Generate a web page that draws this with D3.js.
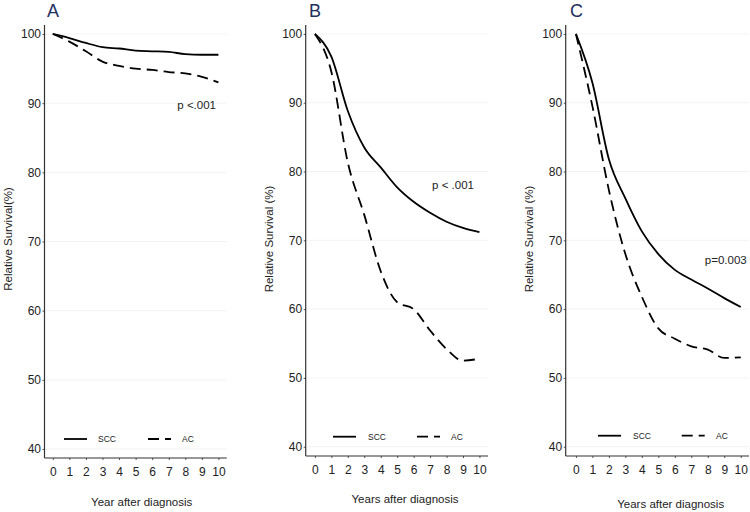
<!DOCTYPE html>
<html><head><meta charset="utf-8">
<script src="https://cdn.jsdelivr.net/npm/d3@7"></script>
<style>
body{margin:0;background:#fff;}
text{font-family:"Liberation Sans",Arial,sans-serif;}
</style></head>
<body><svg id="c" width="750" height="512"></svg>
<script>
const years = [0,1,2,3,4,5,6,7,8,9,10];
const yTicks = [40,50,60,70,80,90,100];
const seriesNames = ["SCC","AC"];
const panelLabels = ["A","B","C"];
const pValues = ["p <.001","p < .001","p=0.003"];
const xTitles = ["Year after diagnosis","Years after diagnosis","Years after diagnosis"];
const yTitles = ["Relative Survival(%)","Relative Survival (%)","Relative Survival (%)"];
const A_SCC = [100,99.4,98.7,98.1,97.9,97.6,97.5,97.4,97.1,97.0,97.0];
const A_AC  = [100,98.9,97.5,96.0,95.4,95.0,94.8,94.5,94.3,93.8,93.0];
const B_SCC = [100,96.7,88.8,83.5,80.6,77.7,75.6,74.0,72.7,71.8,71.2];
const B_AC  = [100,94.5,81.3,73.7,65.5,61.0,60.0,56.9,54.2,52.5,52.8];
const C_SCC = [100,92.9,81.8,76.1,71.3,68.0,65.7,64.3,63.0,61.6,60.3];
const C_AC  = [100,89.5,77.3,68.0,61.8,57.2,55.7,54.6,54.1,52.9,53.0];

const panels = [
 {scc:A_SCC, ac:A_AC, x0:44.5, x1:226.7, xd:[-0.5,10.5], yb:458, yt:25, yd:[38.7,101.3],
  title:[47,17], p:[216,109], legY:439, leg:[64,98,148,182], xlab:[141.7,506], ylab:[11.5,239]},
 {scc:B_SCC, ac:B_AC, x0:305.7, x1:488, xd:[-0.56,10.52], yb:456, yt:25, yd:[38.65,101.3],
  title:[309,17], p:[474,189], legY:436.7, leg:[333,368,417,451], xlab:[405,503], ylab:[273,239]},
 {scc:C_SCC, ac:C_AC, x0:565.7, x1:749, xd:[-0.62,10.5], yb:456, yt:25, yd:[38.65,101.3],
  title:[570,17], p:[746.7,264], legY:435.7, leg:[598,633,681.7,716], xlab:[670.7,508], ylab:[533,239]}
];

const svg = d3.select("#c");
const dash = "11,6";

panels.forEach((P,i)=>{
  const g = svg.append("g");
  const x = d3.scaleLinear().domain(P.xd).range([P.x0,P.x1]);
  const y = d3.scaleLinear().domain(P.yd).range([P.yb,P.yt]);

  g.selectAll("line.grid").data(yTicks).join("line")
    .attr("x1",P.x0).attr("x2",P.x1).attr("y1",d=>y(d)).attr("y2",d=>y(d))
    .attr("stroke","#f3f3f3").attr("stroke-width",1);

  const yAxis = d3.axisLeft(y).tickValues(yTicks).tickSize(2).tickPadding(1.5);
  const ga = g.append("g").attr("transform",`translate(${P.x0},0)`).call(yAxis);
  const xAxis = d3.axisBottom(x).tickValues(years).tickSize(2).tickPadding(7);
  const gx = g.append("g").attr("transform",`translate(0,${P.yb})`).call(xAxis);
  [ga,gx].forEach(a=>{
    a.select(".domain").remove();
    a.selectAll(".tick line").attr("stroke","#555");
    a.selectAll(".tick text").attr("fill","#222").style("font-size","12px")
      .style("font-family",'"Liberation Sans",Arial,sans-serif');
  });
  g.append("line").attr("x1",P.x0).attr("x2",P.x0).attr("y1",P.yt).attr("y2",P.yb)
    .attr("stroke","#333").attr("stroke-width",1.2);
  g.append("line").attr("x1",P.x0).attr("x2",P.x1).attr("y1",P.yb).attr("y2",P.yb)
    .attr("stroke","#333").attr("stroke-width",1.2);

  const line = d3.line().x((d,k)=>x(years[k])).y(d=>y(d)).curve(d3.curveMonotoneX);
  g.append("path").attr("d",line(P.scc)).attr("fill","none").attr("stroke","#000").attr("stroke-width",1.8);
  g.append("path").attr("d",line(P.ac)).attr("fill","none").attr("stroke","#000").attr("stroke-width",1.8)
    .attr("stroke-dasharray",dash);

  g.append("line").attr("x1",P.leg[0]).attr("x2",P.leg[0]+23).attr("y1",P.legY).attr("y2",P.legY)
    .attr("stroke","#000").attr("stroke-width",1.8);
  g.append("text").attr("x",P.leg[1]).attr("y",P.legY+3).text(seriesNames[0])
    .style("font-size","8.5px").attr("fill","#222");
  g.append("line").attr("x1",P.leg[2]).attr("x2",P.leg[2]+23).attr("y1",P.legY).attr("y2",P.legY)
    .attr("stroke","#000").attr("stroke-width",1.8).attr("stroke-dasharray",dash);
  g.append("text").attr("x",P.leg[3]).attr("y",P.legY+3).text(seriesNames[1])
    .style("font-size","8.5px").attr("fill","#222");

  g.append("text").attr("x",P.title[0]).attr("y",P.title[1]).text(panelLabels[i])
    .style("font-size","18px").attr("fill","#1e2f5e");
  g.append("text").attr("x",P.p[0]).attr("y",P.p[1]).attr("text-anchor","end").text(pValues[i])
    .style("font-size","11.5px").attr("fill","#222");
  g.append("text").attr("x",P.xlab[0]).attr("y",P.xlab[1]).attr("text-anchor","middle").text(xTitles[i])
    .style("font-size","11.5px").attr("fill","#222");
  g.append("text").attr("transform",`translate(${P.ylab[0]},${P.ylab[1]}) rotate(-90)`)
    .attr("text-anchor","middle").text(yTitles[i])
    .style("font-size","11.5px").attr("fill","#222");
});
</script></body></html>
